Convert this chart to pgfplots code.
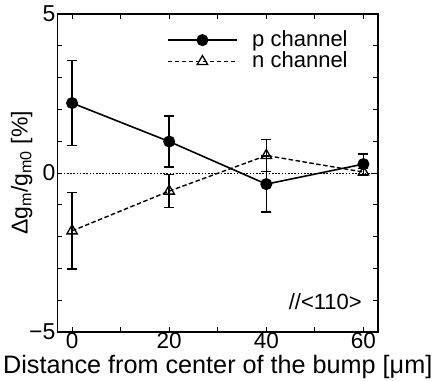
\documentclass[border=0pt]{standalone}
\usepackage{fontspec}
\setmainfont{Liberation Sans}
\usepackage{pgfplots}
\pgfplotsset{compat=1.18}
\begin{document}
\fontsize{23}{27}\selectfont
\begin{tikzpicture}
\begin{axis}[
  scale only axis,
  width=320.5pt, height=318pt,
  xmin=-3, xmax=63, ymin=-5, ymax=5,
  xtick={0,20,40,60}, xticklabels={0,20,40,60},
  minor x tick num=1,
  ytick={-5,0,5}, yticklabels={−5,0,5},
  minor y tick num=4,
  tick align=inside,
  major tick length=5pt, minor tick length=5pt,
  every tick/.style={black, line width=0.9pt},
  axis line style={line width=1.1pt},
  /pgf/number format/assume math mode=true,
  yticklabel style={inner sep=2pt, font=\fontsize{23}{23}\selectfont},
  xticklabel style={inner sep=0.5pt, font=\fontsize{22.5}{22.5}\selectfont},
  xlabel={Distance from center of the bump [μm]},
  xlabel style={font=\fontsize{25.2}{25.2}\selectfont, at={(axis description cs:0.5,0)}, anchor=base, yshift=-42pt, inner sep=0pt},
  ylabel={Δg\textsubscript{m}/g\textsubscript{m0} [\%]},
  ylabel style={font=\fontsize{23}{23}\selectfont, at={(axis description cs:-0.078,0.5)}, anchor=south, rotate=0, inner sep=0pt},
  legend style={at={(0.92,0.96)}, anchor=north east, draw=none, fill=none,
    font=\fontsize{22}{22}\selectfont, row sep=-1pt,
    nodes={inner sep=1.5pt},
    /tikz/every odd column/.append style={column sep=13pt}},
  legend cell align=left,
  legend image code/.code={
    \draw[#1] (0pt,0pt) -- (69pt,0pt);
    \draw[#1, mark repeat=2, mark phase=2] plot coordinates {(0pt,0pt) (34.5pt,0pt) (69pt,0pt)};
  },
  clip=false,
]
\path (rel axis cs:0,0) ++(-57.5pt,-49pt) coordinate (bbA);
\path (rel axis cs:1,1) ++(57pt,14pt) coordinate (bbB);
\useasboundingbox (bbA) rectangle (bbB);

\addplot[black, line width=0.9pt, dash pattern=on 1.6pt off 1.6pt, forget plot] coordinates {(-3,0) (63,0)};

\addplot[black, line width=1.6pt, mark=*, mark size=5.2pt,
  error bars/.cd, y dir=both, y explicit,
  error bar style={line width=1.5pt}, error mark options={rotate=90, mark size=5pt, line width=1.5pt}]
  coordinates {
  (0,2.2) +- (0,1.34)
  (20,0.99) +- (0,0.8)
  (40,-0.35) +- (0,0.88)
  (60,0.28) +- (0,0.32)
};
\addlegendentry{p channel}

\addplot[black, line width=1.4pt, dash pattern=on 4.5pt off 2.5pt, mark=triangle, mark size=6pt,
  mark options={solid, fill=white, line width=1.3pt},
  error bars/.cd, y dir=both, y explicit,
  error bar style={line width=1.5pt, solid}, error mark options={rotate=90, mark size=5pt, line width=1.5pt, solid}]
  coordinates {
  (0,-1.82) +- (0,1.2)
  (20,-0.57) +- (0,0.52)
  (40,0.55) +- (0,0.5)
  (60,0.03) +- (0,0.11)
};
\addlegendentry{n channel}

\node[anchor=east, inner sep=0pt, font=\fontsize{22}{22}\selectfont] at (rel axis cs:0.95,0.094) {//<110>};
\end{axis}
\end{tikzpicture}
\end{document}
